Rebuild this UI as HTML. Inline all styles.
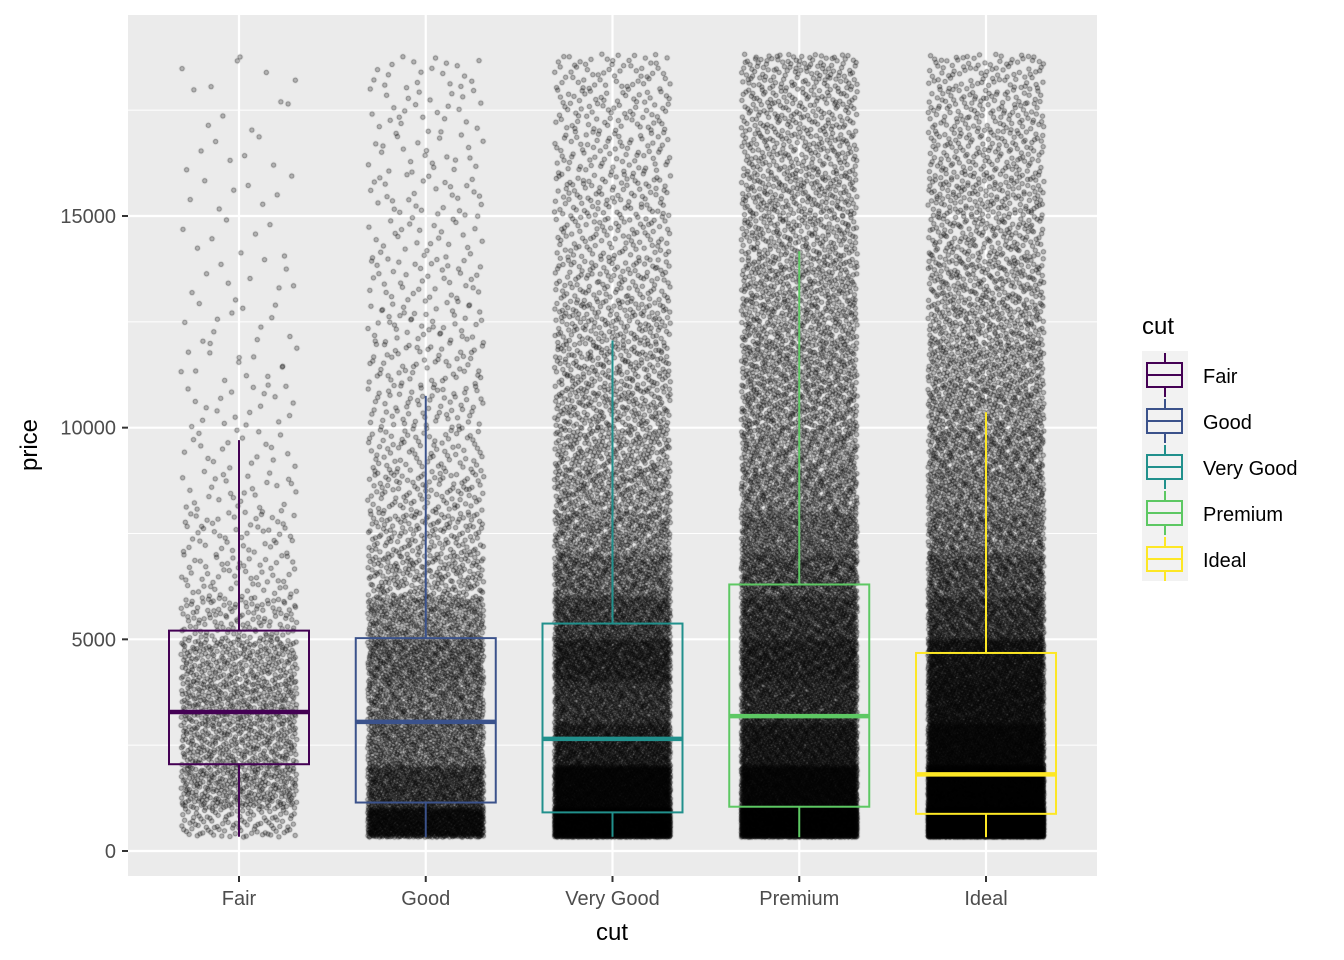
<!DOCTYPE html>
<html><head><meta charset="utf-8"><style>
body{margin:0;background:#fff;width:1344px;height:960px;overflow:hidden;position:relative;font-family:"Liberation Sans",Arial,sans-serif}
svg,canvas{position:absolute;left:0;top:0}
</style></head><body>
<svg id="bg" width="1344" height="960"></svg>
<canvas id="pts" width="1344" height="960"></canvas>
<svg id="fg" width="1344" height="960"></svg>
<script>
const categories=["Fair","Good","Very Good","Premium","Ideal"];
const colors=["#440154","#3B528B","#21908C","#5DC863","#FDE725"];
const whiskerLow=[337,327,336,326,326];
const q1=[2050,1145,912,1046,878];
const median=[3282,3050,2648,3185,1810];
const q3=[5206,5028,5373,6296,4678];
const whiskerHigh=[9705,10752,12059,14167,10363];
const yTicks=[0,5000,10000,15000];
const binSize=1000;
const minPrice=326, maxPrice=18823;
const countsFair=[100,300,280,290,250,130,60,50,30,20,20,15,12,10,8,8,7,6,6];
const countsGood=[1200,900,550,500,550,380,210,150,110,80,70,60,50,40,30,30,25,25,20];
const countsVeryGood=[3300,2300,1200,900,1100,800,550,380,300,240,210,180,160,120,100,100,80,80,60];
const countsPremium=[3300,2200,1300,1000,1100,900,700,550,420,350,320,300,260,240,200,200,170,160,130];
const countsIdeal=[6600,4000,2000,1500,1400,900,700,500,420,380,320,280,230,200,170,170,140,130,90];
const counts=[countsFair,countsGood,countsVeryGood,countsPremium,countsIdeal];

const P={l:128,r:1097,t:15,b:876};
const y=v=>851-v*(635/15000);
const x=i=>239+i*186.75;
const NS="http://www.w3.org/2000/svg";
function mk(parent,tag,attrs,name,text){const e=document.createElementNS(NS,tag);for(const k in attrs)e.setAttribute(k,attrs[k]);


if(text!==undefined)e.textContent=text;parent.appendChild(e);return e;}
const bg=document.getElementById('bg'),fg=document.getElementById('fg');
mk(bg,'rect',{x:P.l,y:P.t,width:P.r-P.l,height:P.b-P.t,fill:'#ebebeb'},'plot-panel');
for(let v=2500;v<=17500;v+=5000)mk(bg,'line',{x1:P.l,x2:P.r,y1:y(v),y2:y(v),stroke:'#fff','stroke-width':1},'minor-gridline');
yTicks.forEach(v=>{mk(bg,'line',{x1:P.l,x2:P.r,y1:y(v),y2:y(v),stroke:'#fff','stroke-width':2.2},'major-gridline');
mk(bg,'line',{x1:122,x2:128,y1:y(v),y2:y(v),stroke:'#333','stroke-width':2},'y-tick');
mk(bg,'text',{x:116,y:y(v)+7,'text-anchor':'end','font-size':20,fill:'#4d4d4d'},'y-tick-label',v);});
categories.forEach((c,i)=>{mk(bg,'line',{x1:x(i),x2:x(i),y1:P.t,y2:P.b,stroke:'#fff','stroke-width':2.2},'x-gridline');
mk(bg,'line',{x1:x(i),x2:x(i),y1:876,y2:882,stroke:'#333','stroke-width':2},'x-tick');
mk(bg,'text',{x:x(i),y:905,'text-anchor':'middle','font-size':20,fill:'#4d4d4d'},'x-tick-label',c);});
mk(bg,'text',{x:612,y:940,'text-anchor':'middle','font-size':24,fill:'#000'},'x-axis-title','cut');
mk(bg,'text',{x:37,y:445,'text-anchor':'middle','font-size':24,fill:'#000',transform:'rotate(-90 37 445)'},'y-axis-title','price');

function halton(i,b){let f=1,r=0;while(i>0){f/=b;r+=f*(i%b);i=Math.floor(i/b);}return r;}
const ctx=document.getElementById('pts').getContext('2d');
ctx.fillStyle='rgba(0,0,0,0.22)';ctx.strokeStyle='rgba(0,0,0,0.42)';ctx.lineWidth=1;
let k=1;
counts.forEach((arr,i)=>{arr.forEach((n,b)=>{const lo=Math.max(minPrice,b*binSize),hi=Math.min(maxPrice,(b+1)*binSize);
for(let j=0;j<n;j++,k++){const px=x(i)+(halton(k,2)-0.5)*116,py=y(lo+halton(k,3)*(hi-lo));
ctx.beginPath();ctx.arc(px,py,2.2,0,6.2832);ctx.fill();ctx.stroke();}});});

categories.forEach((c,i)=>{const g=mk(fg,'g',{stroke:colors[i],fill:'none','stroke-width':2},'boxplot-'+c.toLowerCase().replace(' ','-'));
mk(g,'line',{x1:x(i),x2:x(i),y1:y(whiskerLow[i]),y2:y(q1[i])},'lower-whisker');
mk(g,'line',{x1:x(i),x2:x(i),y1:y(q3[i]),y2:y(whiskerHigh[i])},'upper-whisker');
mk(g,'rect',{x:x(i)-70,y:y(q3[i]),width:140,height:y(q1[i])-y(q3[i])},'box');
mk(g,'line',{x1:x(i)-70,x2:x(i)+70,y1:y(median[i]),y2:y(median[i]),'stroke-width':4.5},'median-line');});

mk(fg,'text',{x:1142,y:334,'font-size':24,fill:'#000'},'legend-title','cut');
mk(fg,'rect',{x:1142,y:351,width:46,height:230,fill:'#f2f2f2'},'legend-keys-background');
categories.forEach((c,i)=>{const cy=375+i*46;const g=mk(fg,'g',{stroke:colors[i],fill:'none','stroke-width':2},'legend-key');
mk(g,'line',{x1:1165,x2:1165,y1:cy-22,y2:cy+22},'legend-whisker');
mk(g,'rect',{x:1147,y:cy-12,width:35,height:24,fill:'#f2f2f2'},'legend-box');
mk(g,'line',{x1:1147,x2:1182,y1:cy,y2:cy},'legend-median');
mk(fg,'text',{x:1203,y:cy+8,'font-size':20,fill:'#000'},'legend-label',c);});
</script></body></html>
